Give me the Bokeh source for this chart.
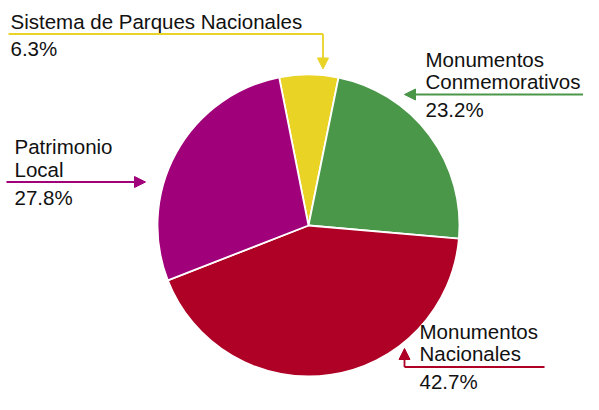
import math
from bokeh.plotting import figure
from bokeh.models import Range1d, Arrow, NormalHead, ColumnDataSource
from bokeh.core.properties import value
from bokeh.embed import file_html
from bokeh.resources import INLINE

# ---- data ----
categories = ["Sistema de Parques Nacionales", "Monumentos Conmemorativos",
              "Monumentos Nacionales", "Patrimonio Local"]
shares = [6.3, 23.2, 42.7, 27.8]
colors = ["#E9D325", "#4A9749", "#AE0125", "#A0007A"]
label_lines = [["Sistema de Parques Nacionales"],
               ["Monumentos", "Conmemorativos"],
               ["Monumentos", "Nacionales"],
               ["Patrimonio", "Local"]]
pct_labels = [f"{v:.1f}%" for v in shares]

# ---- layout (canvas pixel coordinates, y downwards) ----
W, H = 583, 394
def Y(sy):
    return H - sy

CX, CY, R = 308, 225, 151
START_DEG = 101.2
TEXT_DY = 8  # compensation for rendered baseline

label_x = [10, 425, 419, 14]
label_base = [[28.5], [66.7, 88.7], [339, 361], [154, 176.5]]
pct_base = [56, 117, 388.5, 205]

p = figure(width=W, height=H, x_range=Range1d(0, W), y_range=Range1d(0, H),
           x_axis_type=None, y_axis_type=None, min_border=0,
           toolbar_location=None, output_backend="svg")
p.grid.visible = False
p.outline_line_color = None
p.background_fill_color = "white"
p.border_fill_color = "white"

# wedges, clockwise from START_DEG
starts, ends = [], []
cum = 0.0
total = sum(shares)
for v in shares:
    s = math.radians(START_DEG) - cum / total * 2 * math.pi
    e = s - v / total * 2 * math.pi
    starts.append(s)
    ends.append(e)
    cum += v
src = ColumnDataSource(dict(cat=categories, share=shares, color=colors,
                            start=starts, end=ends))
p.wedge(x=CX, y=Y(CY), radius=R, start_angle="start", end_angle="end",
        direction="clock", fill_color="color", line_color="white",
        line_width=1.8, source=src)

# labels
tx, ty, tt = [], [], []
for i in range(len(categories)):
    for line, b in zip(label_lines[i], label_base[i]):
        tx.append(label_x[i]); ty.append(Y(b - TEXT_DY)); tt.append(line)
    tx.append(label_x[i]); ty.append(Y(pct_base[i] - TEXT_DY)); tt.append(pct_labels[i])
p.text(x=tx, y=ty, text=tt, text_font=value("Liberation Sans"),
       text_font_size="20.5px", text_baseline="alphabetic", text_align="left",
       text_color="#111111")

# leader lines and arrows
def arrow(x0, y0, x1, y1, c):
    p.add_layout(Arrow(x_start=x0, y_start=Y(y0), x_end=x1, y_end=Y(y1),
                       line_color=c, line_width=1.8,
                       end=NormalHead(size=11, fill_color=c, line_color=c, line_width=1)))

# Sistema de Parques Nacionales
p.line([8, 322.5], [Y(33.5), Y(33.5)], line_color=colors[0], line_width=1.8)
arrow(322.5, 33.5, 322.5, 68.5, colors[0])
# Monumentos Conmemorativos
arrow(590, 94, 404, 94, colors[1])
# Monumentos Nacionales
p.line([544, 404], [Y(366.5), Y(366.5)], line_color=colors[2], line_width=1.8)
arrow(404, 366.5, 404, 348, colors[2])
# Patrimonio Local
arrow(6, 181.5, 145, 181.5, colors[3])

open("out.html", "w").write(file_html(p, INLINE))
